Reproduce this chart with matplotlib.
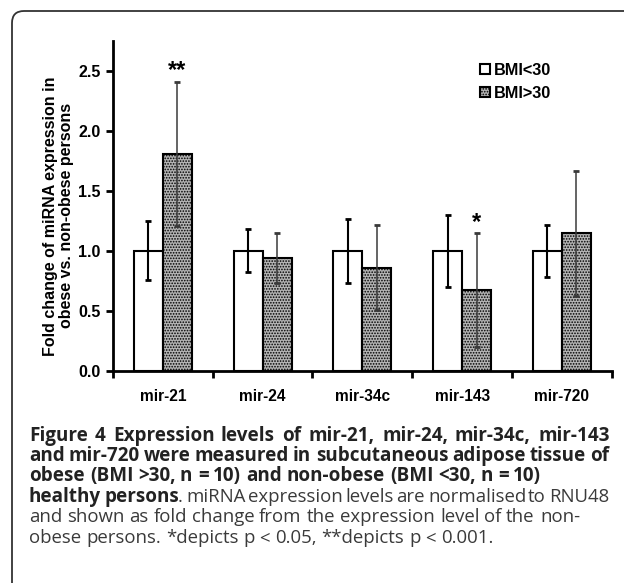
import numpy as np
import matplotlib
matplotlib.use('Agg')
import matplotlib.pyplot as plt
from matplotlib.patches import FancyBboxPatch
from matplotlib.font_manager import FontProperties

# == data
categories = ['mir-21', 'mir-24', 'mir-34c', 'mir-143', 'mir-720']
lean_vals = [1.0, 1.0, 1.0, 1.0, 1.0]
lean_err = [0.245, 0.18, 0.265, 0.30, 0.215]
obese_vals = [1.81, 0.94, 0.86, 0.67, 1.145]
obese_err = [0.60, 0.205, 0.355, 0.475, 0.52]
stars = ['**', '', '', '*', '']
yticks = [0.0, 0.5, 1.0, 1.5, 2.0, 2.5]

W, H = 624, 583
plt.rcParams['hatch.linewidth'] = 0.8
fig = plt.figure(figsize=(W / 100, H / 100), dpi=100)
ax = fig.add_axes([113 / W, 1 - 370.7 / H, (611.7 - 113) / W, 330 / H])
arial = 'Liberation Sans'

x = np.arange(len(categories))
w = 0.29
ax.bar(x - w/2, lean_vals, w, color='white', edgecolor='black', linewidth=1.5, label='BMI<30')
ax.bar(x + w/2, obese_vals, w, color='#b4b4b4', edgecolor='black', linewidth=1.5,
       hatch='......', label='BMI>30')
ax.errorbar(x - w/2, lean_vals, yerr=lean_err, fmt='none', ecolor='black',
            elinewidth=1.5, capsize=2.5, capthick=2)
ax.errorbar(x + w/2, obese_vals, yerr=obese_err, fmt='none', ecolor='#3a3a3a',
            elinewidth=1.1, capsize=2.5, capthick=2)
for i, s in enumerate(stars):
    if s:
        ax.text(x[i] + w/2, obese_vals[i] + obese_err[i] - 0.005, s, ha='center', va='bottom',
                fontsize=17, fontweight='bold', family=arial)

ax.set_xlim(-0.5, len(categories) - 0.5)
ax.set_ylim(0, 2.75)
ax.set_yticks(yticks)
ax.set_yticklabels(['{:.1f}'.format(v) for v in yticks], fontsize=11.5, fontweight='bold',
                   family=arial)
ax.set_xticks(np.arange(len(categories) + 1) - 0.5)
ax.set_xticklabels([])
ax.set_xticks(x, minor=True)
ax.set_xticklabels(categories, minor=True, fontsize=11.2, fontweight='bold', family=arial)
ax.tick_params(axis='x', which='minor', length=0, pad=13)
ax.tick_params(axis='x', which='major', direction='out', length=5, width=2)
ax.tick_params(axis='y', direction='out', length=5, width=2, pad=4)
for sp in ['top', 'right']:
    ax.spines[sp].set_visible(False)
for sp in ['left', 'bottom']:
    ax.spines[sp].set_linewidth(2)
ax.set_ylabel('Fold change of miRNA expression in\nobese vs. non-obese persons', fontsize=11.5,
              fontweight='bold', family=arial, linespacing=1.05)
ax.yaxis.set_label_coords(-0.079, 0.469)

ax.legend(loc='upper left', bbox_to_anchor=(0.713, 0.968), frameon=False, handlelength=0.6,
          handleheight=0.6, handletextpad=0.25, labelspacing=0.5, borderpad=0.2,
          prop={'family': arial, 'weight': 'bold', 'size': 11.7})

# == rounded frame (runs off the right and bottom edges)
frame = FancyBboxPatch((0.12, -0.5), 7.0, 6.22, boxstyle='round,pad=0,rounding_size=0.12',
                       transform=fig.dpi_scale_trans, fill=False, edgecolor='#333333', linewidth=1.3)
frame.set_clip_on(False)
fig.add_artist(frame)

# == caption, word by word so lines can be justified
cap_x0, cap_x1 = 29, 609
bold_c, reg_c = '#222222', '#3a3a3a'
fs_b, fs_r = 13.6, 13.4
renderer = fig.canvas.get_renderer()

def props(bold):
    return FontProperties(family='Open Sans', size=fs_b if bold else fs_r,
                          weight='bold' if bold else 'normal')

def piece_width(txt, bold):
    return renderer.get_text_width_height_descent(txt, props(bold), ismath=False)[0]

def space_width(bold):
    return piece_width('a a', bold) - 2 * piece_width('a', bold)

def put_piece(xpx, ypx, txt, bold):
    fig.text(round(xpx) / W, 1 - ypx / H, txt, fontproperties=props(bold),
             color=bold_c if bold else reg_c, va='baseline')

def caption_line(words, ypx, justify):
    # words: list of words, each a list of (text, bold) pieces
    widths = [[piece_width(t, b) for t, b in wd] for wd in words]
    total = sum(sum(ws) for ws in widths)
    if justify:
        gap = (cap_x1 - cap_x0 - total) / (len(words) - 1)
    else:
        gap = space_width(words[0][0][1])
    xp = cap_x0
    for wd, ws in zip(words, widths):
        for (t, b), wp in zip(wd, ws):
            put_piece(xp, ypx, t, b)
            xp += wp
        xp += gap

def words_of(line, bold):
    return [[(wd, bold)] for wd in line.split()]

caption_line(words_of('Figure 4 Expression levels of mir-21, mir-24, mir-34c, mir-143', True), 441, True)
caption_line(words_of('and mir-720 were measured in subcutaneous adipose tissue of', True), 461, True)
caption_line(words_of('obese (BMI >30, n = 10) and non-obese (BMI <30, n = 10)', True), 481, False)
line4 = [[('healthy', True)], [('persons', True), ('.', False)]]
line4 += words_of('miRNA expression levels are normalised to RNU48', False)
caption_line(line4, 502, True)
caption_line(words_of('and shown as fold change from the expression level of the non-', False), 522, False)
caption_line(words_of('obese persons. *depicts p < 0.05, **depicts p < 0.001.', False), 543, False)

fig.savefig('out.png', dpi=100)
